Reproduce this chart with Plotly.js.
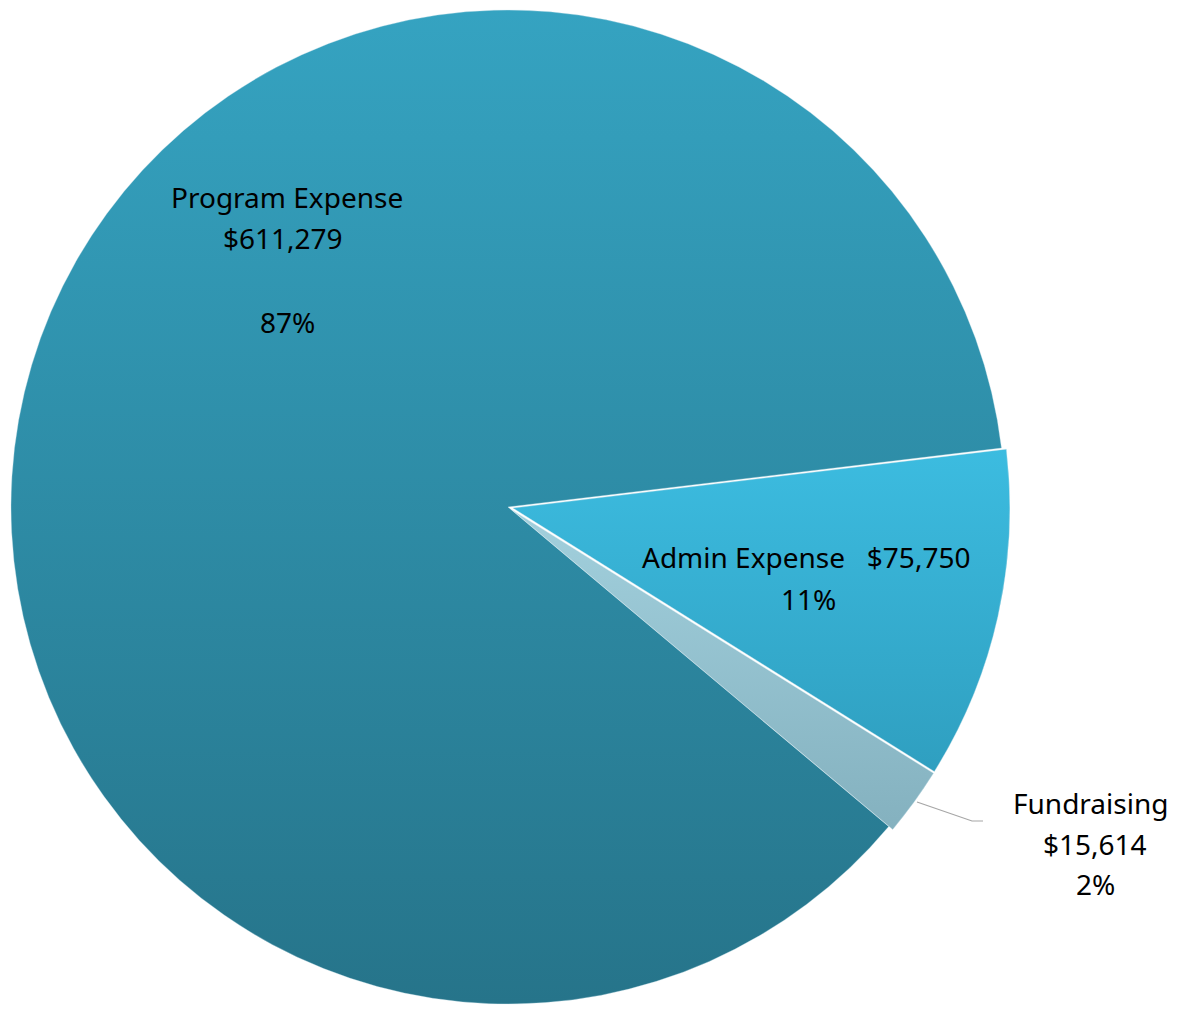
<!DOCTYPE html>
<html>
<head>
<meta charset="utf-8">
<script src="https://cdn.plot.ly/plotly-3.0.1.min.js"></script>
<style>
  html, body { margin: 0; padding: 0; background: #ffffff; }
  #chart { width: 1177px; height: 1009px; }
</style>
</head>
<body>
<div id="chart"></div>
<script>
// ---- data ----
const categories = ["Program Expense", "Admin Expense", "Fundraising"];
const amounts = [611279, 75750, 15614];
const sliceColors = ["#2f8ca8", "#38b3d7", "#8fbfcd"];
const gradTop = ["#35a3c1", "#3cbce0", "#a2d0dd"];
const gradBottom = ["#26748a", "#2f9fc0", "#84b1bf"];

// ---- helpers ----
const W = 1177, H = 1009;
const total = amounts.reduce((a, b) => a + b, 0);
const pct = amounts.map(v => Math.round(v / total * 100) + "%");
const money = amounts.map(v => "$" + v.toLocaleString("en-US"));
const px = x => x / W;
const py = y => 1 - y / H;

const FONT = { family: "Noto Sans, Open Sans, sans-serif", size: 28, color: "#000000" };

function ann(text, x, y) {
  return {
    text: text, x: px(x), y: py(y), xref: "paper", yref: "paper",
    showarrow: false, xanchor: "center", yanchor: "middle", font: FONT
  };
}

const annotations = [
  ann(categories[0], 287, 197),
  ann(money[0], 283, 238),
  ann(pct[0], 287, 322),
  ann(categories[1] + "&nbsp;&nbsp;&nbsp;" + money[1], 806, 557),
  ann(pct[1], 808, 599),
  ann(categories[2], 1090, 803),
  ann(money[2], 1095, 844),
  ann(pct[2], 1095, 884)
];

const trace = {
  type: "pie",
  labels: categories,
  values: amounts,
  sort: false,
  direction: "clockwise",
  rotation: 130,
  pull: [0, 0.01, 0.01],
  textinfo: "none",
  hoverinfo: "label+value+percent",
  marker: { colors: sliceColors, line: { color: "rgba(200,225,235,0.35)", width: 1 } },
  domain: { x: [6 / W, 1010 / W], y: [0, 0.995] }
};

const layout = {
  width: W, height: H,
  margin: { l: 0, r: 0, t: 0, b: 0 },
  showlegend: false,
  paper_bgcolor: "#ffffff",
  annotations: annotations,
  shapes: [{
    type: "path",
    xref: "paper", yref: "paper",
    path: "M " + px(917) + "," + py(802) + " L " + px(972) + "," + py(821) + " L " + px(983) + "," + py(821),
    line: { color: "#a6a6a6", width: 1.2 }
  }]
};

Plotly.newPlot("chart", [trace], layout, { displayModeBar: false, staticPlot: true }).then(gd => {
  // vertical shading of each slice, as in the reference
  const svg = gd.querySelector("svg.main-svg");
  const NS = "http://www.w3.org/2000/svg";
  let defs = svg.querySelector("defs");
  if (!defs) { defs = document.createElementNS(NS, "defs"); svg.insertBefore(defs, svg.firstChild); }
  const slices = gd.querySelectorAll("g.slice path.surface");
  slices.forEach((p, i) => {
    const g = document.createElementNS(NS, "linearGradient");
    g.setAttribute("id", "sliceGrad" + i);
    g.setAttribute("x1", "0"); g.setAttribute("y1", "0");
    g.setAttribute("x2", "0"); g.setAttribute("y2", "1");
    [[0, gradTop[i]], [1, gradBottom[i]]].forEach(([o, c]) => {
      const s = document.createElementNS(NS, "stop");
      s.setAttribute("offset", o); s.setAttribute("stop-color", c);
      g.appendChild(s);
    });
    defs.appendChild(g);
    p.style.fill = "url(#sliceGrad" + i + ")";
  });
});
</script>
</body>
</html>
